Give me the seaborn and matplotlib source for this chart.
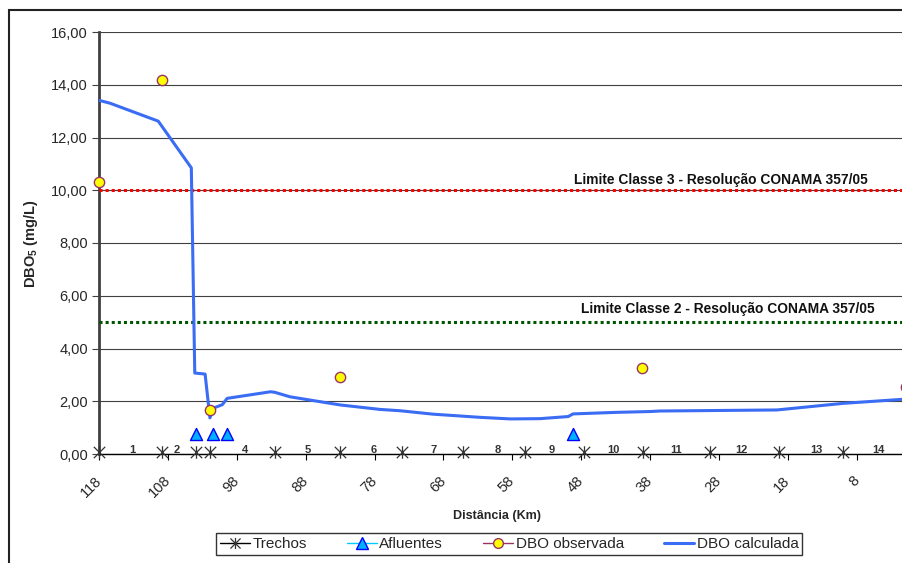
import numpy as np
import pandas as pd
import seaborn as sns
import matplotlib.pyplot as plt
from matplotlib.lines import Line2D
from matplotlib.path import Path
from matplotlib.patches import Rectangle

# DBO calculada (km, mg/L)
calc_km = [118.0, 116.4, 109.4, 104.6, 104.1, 102.6, 101.9, 101.4, 100.1, 99.4,
           93.1, 92.5, 90.3, 83.0, 77.2, 74.3, 69.5, 62.7, 58.3, 54.0, 49.9, 49.2,
           42.8, 38.0, 36.6, 19.6, 10.0, 1.0]
calc_dbo = [13.41, 13.30, 12.62, 10.85, 3.07, 3.03, 1.37, 1.74, 1.87, 2.11,
            2.36, 2.34, 2.17, 1.86, 1.69, 1.64, 1.51, 1.39, 1.33, 1.34, 1.42, 1.52,
            1.58, 1.61, 1.63, 1.67, 1.92, 2.08]

# DBO observada
obs_km = [118.0, 108.9, 101.9, 83.0, 39.2, 0.9]
obs_dbo = [10.32, 14.17, 1.67, 2.92, 3.26, 2.54]

# Afluentes
afl_km = [103.9, 101.5, 99.4, 49.2]
afl_y = [0.76, 0.76, 0.76, 0.76]

# Trechos
trecho_km = [118.0, 108.9, 103.9, 101.9, 92.5, 83.0, 74.0, 65.2, 56.2, 47.6, 39.0, 29.3, 19.3, 10.0]
trecho_lbl = ["1", "2", "4", "5", "6", "7", "8", "9", "10", "11", "12", "13", "14"]
trecho_lbl_km = [113.1, 106.7, 96.8, 87.7, 78.2, 69.4, 60.1, 52.3, 43.3, 34.3, 24.7, 13.9, 4.9]

limites = [10.0, 5.0]
limite_txt = ["Limite Classe 3 - Resolução CONAMA 357/05", "Limite Classe 2 - Resolução CONAMA 357/05"]

xtick_vals = [118, 108, 98, 88, 78, 68, 58, 48, 38, 28, 18, 8]

sns.set_style("white")
plt.rcParams['font.family'] = ['Liberation Sans', 'DejaVu Sans']
plt.rcParams['mathtext.fontset'] = 'custom'
plt.rcParams['mathtext.rm'] = 'Liberation Sans'
plt.rcParams['mathtext.bf'] = 'Liberation Sans:bold'

fig = plt.figure(figsize=(9.02, 5.63), dpi=100)
ax = fig.add_axes([99 / 902, 1 - 454 / 563, 813 / 902, 422 / 563])

# outer chart frame
fig.patches.append(Rectangle((9 / 902, -0.2), 2, 1.2 - 10 / 563, transform=fig.transFigure,
                             fill=False, lw=1.5, ec='#222222'))

ax.set_xlim(118, 0)
ax.set_ylim(0, 16)
ax.set_yticks(np.arange(0, 17, 2))
ax.set_yticklabels([f"{v:.2f}".replace('.', ',') for v in np.arange(0, 17, 2)], fontsize=10.5)
ax.set_xticks(xtick_vals)
ax.set_xticklabels([str(v) for v in xtick_vals], fontsize=10.5, rotation=45,
                   ha='right', va='center', rotation_mode='anchor')
ax.grid(axis='y', color='#404040', lw=0.8)
ax.set_axisbelow(True)
for s in ['top', 'right']:
    ax.spines[s].set_visible(False)
ax.spines['left'].set_linewidth(2)
ax.spines['left'].set_color('#404040')
ax.spines['bottom'].set_linewidth(1)
ax.spines['bottom'].set_color('black')
ax.tick_params(axis='y', left=True, length=5, width=0.8, color='#404040', pad=3)
ax.tick_params(axis='x', bottom=True, length=4, width=0.8, color='black', pad=13.5)

# limits
lim_colors = ['#ff0000', '#005500']
lim_pos = [(27.7, 10.39), (26.8, 5.5)]
for y, c, t, (tx, ty) in zip(limites, lim_colors, limite_txt, lim_pos):
    ax.axhline(y, color=c, lw=2.2, linestyle=(0, (1, 1)), zorder=3)
    ax.text(tx, ty, t, ha='center', va='center', fontsize=9.9, fontweight='bold', color='#111111')

calc = pd.DataFrame({'km': calc_km, 'dbo': calc_dbo})
sns.lineplot(data=calc, x='km', y='dbo', sort=False, color='#3a6cf4', lw=2.2, ax=ax, zorder=4)

star = Path([(-1, -1), (1, 1), (-1, 1), (1, -1), (0, -1.1), (0, 1.1)],
            [Path.MOVETO, Path.LINETO, Path.MOVETO, Path.LINETO, Path.MOVETO, Path.LINETO])
ax.plot(trecho_km, [0.06] * len(trecho_km), linestyle='none', marker=star, markersize=9,
        markeredgecolor='#333333', markerfacecolor='none', markeredgewidth=0.9, clip_on=False, zorder=5)
for k, t in zip(trecho_lbl_km, trecho_lbl):
    ax.text(k, 0.15, t, ha='center', va='center', fontsize=8, fontweight='bold', color='#333333')

sns.scatterplot(x=afl_km, y=afl_y, marker='^', s=75, color='#00b0ff', edgecolor='#0000ff',
                linewidth=1, ax=ax, zorder=5)
sns.scatterplot(x=obs_km, y=obs_dbo, marker='o', s=55, color='#ffff00', edgecolor='#993366',
                linewidth=1, ax=ax, zorder=6, clip_on=False)

ax.set_xlabel('Distância (Km)', fontsize=9, fontweight='bold')
ax.xaxis.label.set_va('center')
ax.xaxis.set_label_coords((497 - 99) / 813, (454 - 516) / 422)
ax.set_ylabel(r'DBO$_\mathbf{5}$ (mg/L)', fontsize=10.5, fontweight='bold')
ax.yaxis.label.set_va('center')
ax.yaxis.set_label_coords((31 - 99) / 813, (454 - 244) / 422)

handles = [
    Line2D([], [], color='black', lw=1, marker=star, markersize=8, markeredgecolor='#333333',
           markerfacecolor='none', markeredgewidth=0.9),
    Line2D([], [], color='#00ccff', lw=1, marker='^', markersize=8, markerfacecolor='#00b0ff',
           markeredgecolor='#0000ff'),
    Line2D([], [], color='#993366', lw=1, marker='o', markersize=7, markerfacecolor='#ffff00',
           markeredgecolor='#993366'),
    Line2D([], [], color='#3a6cf4', lw=2.2),
]
labels = ['Trechos', 'Afluentes', 'DBO observada', 'DBO calculada']
leg = ax.legend(handles, labels, loc='center', bbox_to_anchor=((509 - 99) / 813, (454 - 544) / 422),
                ncol=4, fontsize=11, frameon=True, fancybox=False, edgecolor='black',
                handlelength=2.0, columnspacing=2.6, handletextpad=0.15, borderpad=0.25)
leg.get_frame().set_linewidth(1)

fig.savefig('out.png', dpi=100)
